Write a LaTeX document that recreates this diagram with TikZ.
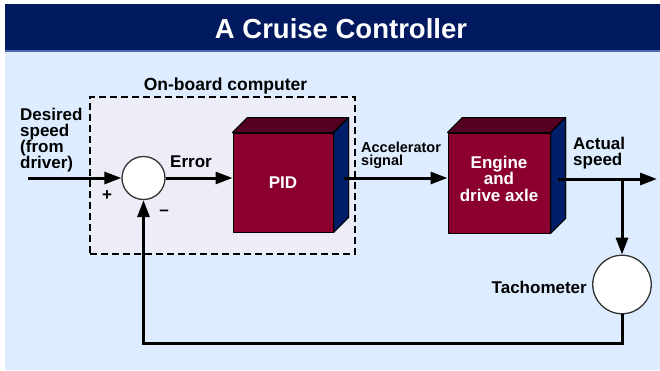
\documentclass[tikz,border=0pt]{standalone}
\usepackage{fontspec}
\setmainfont{Liberation Sans}
\usetikzlibrary{arrows.meta,calc}
\definecolor{navy}{RGB}{0,25,95}
\definecolor{skyback}{RGB}{221,237,255}
\definecolor{obcfill}{RGB}{237,237,248}
\definecolor{boxfront}{RGB}{140,0,48}
\definecolor{boxtop}{RGB}{85,0,35}
\definecolor{boxside}{RGB}{0,30,105}
\definecolor{headrule}{RGB}{80,105,175}
\tikzset{
  lbl/.style={inner sep=0pt, font=\bfseries\fontsize{17}{16.2}\selectfont, text=black, align=left},
  conn/.style={line width=3pt, -{Triangle[length=17pt,width=12pt]}},
  sumnode/.style={circle, draw=black!80, line width=1.3pt, fill=white, minimum size=43pt, inner sep=0pt},
  blockface/.style={rectangle, draw=black, line width=1pt, fill=boxfront, inner sep=0pt, text=white,
    font=\bfseries\fontsize{17}{16.5}\selectfont, align=center},
  topface/.style={draw=black, line width=1pt, fill=boxtop, line join=round},
  sideface/.style={draw=black, line width=1pt, fill=boxside, line join=round},
  obcbox/.style={draw=black, dashed, dash pattern=on 7pt off 4pt, line width=1.5pt, fill=obcfill, inner sep=0pt},
}
\begin{document}
\begin{tikzpicture}[x=1pt,y=-1pt]
  % frame and backgrounds
  \fill[white] (0,0) rectangle (660,370);
  \useasboundingbox (0,0) rectangle (660,370);
  \fill[skyback] (5,50) rectangle (660,370);
  \fill[navy] (5,4) rectangle (660,50);
  \fill[headrule] (5,49.5) rectangle (660,51.5);
  \node[font=\bfseries\fontsize{27.5}{30}\selectfont, text=white] (title) at (341,28.5) {A Cruise Controller};

  % on-board computer box
  \node[obcbox, minimum width=265pt, minimum height=157pt] (obc) at (222.5,175.5) {};
  \node[lbl, anchor=base, font=\bfseries\fontsize{17.5}{18}\selectfont] (obclabel) at (225.5,90) {On-board computer};

  % summing junction
  \node[sumnode] (sum) at (143.5,178) {};

  % PID block
  \node[blockface, minimum width=100pt, minimum height=99pt] (pid) at (283,182.5) {PID};
  \fill[topface] (pid.north west) -- ++(15,-15) -- ($(pid.north east)+(15,-15)$) -- (pid.north east) -- cycle;
  \fill[sideface] (pid.north east) -- ++(15,-15) -- ($(pid.south east)+(15,-15)$) -- (pid.south east) -- cycle;
  \draw[topface, fill=none] (pid.north west) -- ++(15,-15) -- ($(pid.north east)+(15,-15)$) -- (pid.north east) -- cycle;
  \draw[sideface, fill=none] (pid.north east) -- ++(15,-15) -- ($(pid.south east)+(15,-15)$) -- (pid.south east) -- cycle;

  % Engine block
  \node[blockface, minimum width=102pt, minimum height=100pt] (engine) at (499,183) {};
  \fill[topface] (engine.north west) -- ++(15,-15) -- ($(engine.north east)+(15,-15)$) -- (engine.north east) -- cycle;
  \fill[sideface] (engine.north east) -- ++(15,-15) -- ($(engine.south east)+(15,-15)$) -- (engine.south east) -- cycle;
  \draw[topface, fill=none] (engine.north west) -- ++(15,-15) -- ($(engine.north east)+(15,-15)$) -- (engine.north east) -- cycle;
  \draw[sideface, fill=none] (engine.north east) -- ++(15,-15) -- ($(engine.south east)+(15,-15)$) -- (engine.south east) -- cycle;
  \node[text=white, inner sep=0pt, font=\bfseries\fontsize{17}{16.5}\selectfont, align=center] (enginetext) at (499,178.5) {Engine\\and\\drive axle};

  % Tachometer
  \node[sumnode, minimum size=58.5pt] (tach) at (622,284.5) {};
  \node[lbl, anchor=east] (tachlabel) at (587,287) {Tachometer};

  % coordinates for free ends
  \coordinate (in) at (28,178);
  \coordinate (out) at (657,179);
  \coordinate (fb) at (622,343);

  % connectors
  \draw[conn] (in) -- (sum.west);
  \draw[conn] (sum.east) -- (sum.east -| pid.west);
  \draw[conn] ([xshift=10pt]pid.east |- sum.east) -- (sum.east -| engine.west);
  \draw[conn] ([xshift=7pt]engine.east |- out) -- (out);
  \draw[conn] (tach.north |- out) -- (tach.north);
  \draw[conn] (tach.south) -- (fb) -| (sum.south);

  % labels
  \node[lbl, anchor=north west] (desired) at (20,107.5) {Desired\\speed\\(from\\driver)};
  \node[lbl, anchor=base west] (error) at (170,167) {Error};
  \node[lbl] (plus) at (107,195.5) {+};
  \node[lbl] (minus) at (164,213) {–};
  \node[lbl, anchor=north west, font=\bfseries\fontsize{14.5}{13.5}\selectfont] (accel) at (361,141.5) {Accelerator\\signal};
  \node[lbl, anchor=north west] (actual) at (573,137) {Actual\\speed};
\end{tikzpicture}
\end{document}
